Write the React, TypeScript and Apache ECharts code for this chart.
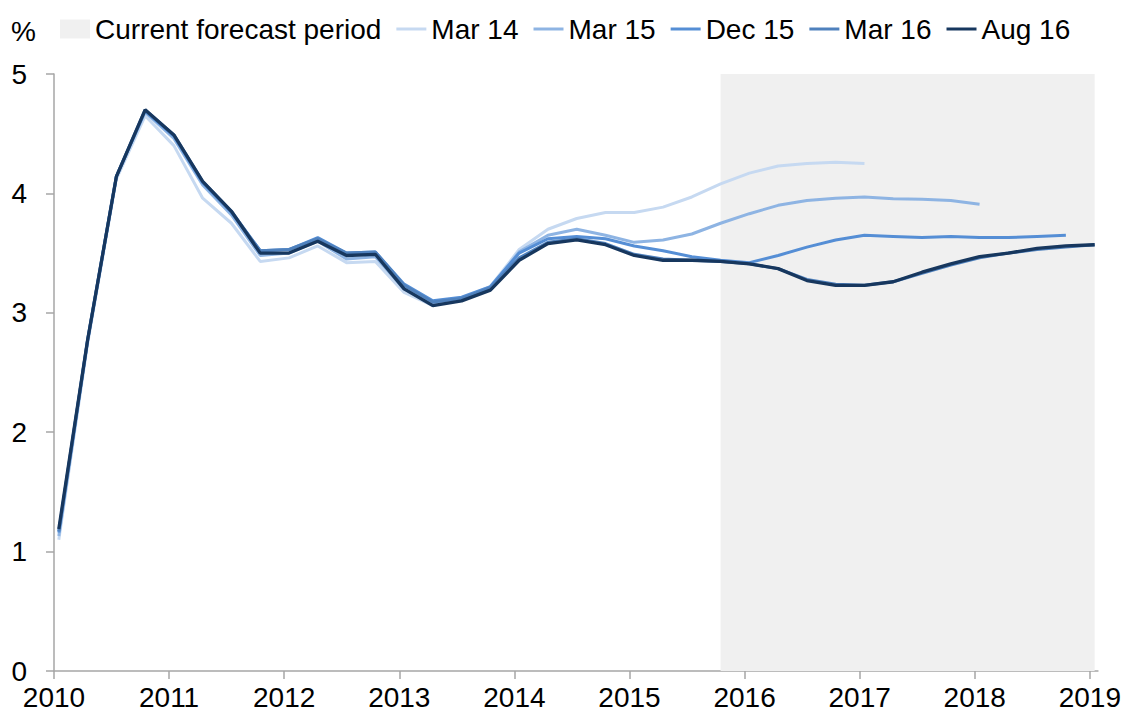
import React, { useEffect, useRef } from "react";
import * as echarts from "echarts";

const quarters = [
  "2010Q1", "2010Q2", "2010Q3", "2010Q4",
  "2011Q1", "2011Q2", "2011Q3", "2011Q4",
  "2012Q1", "2012Q2", "2012Q3", "2012Q4",
  "2013Q1", "2013Q2", "2013Q3", "2013Q4",
  "2014Q1", "2014Q2", "2014Q3", "2014Q4",
  "2015Q1", "2015Q2", "2015Q3", "2015Q4",
  "2016Q1", "2016Q2", "2016Q3", "2016Q4",
  "2017Q1", "2017Q2", "2017Q3", "2017Q4",
  "2018Q1", "2018Q2", "2018Q3", "2018Q4",
  "2019Q1",
];

const mar14 = [
  1.10, 2.74, 4.12, 4.65,
  4.40, 3.96, 3.75, 3.43,
  3.46, 3.56, 3.42, 3.43,
  3.17, 3.06, 3.12, 3.22,
  3.53, 3.70, 3.79, 3.84,
  3.84, 3.885, 3.97, 4.08,
  4.17, 4.23, 4.25, 4.26,
  4.25,
];

const mar15 = [
  1.13, 2.76, 4.14, 4.68,
  4.46, 4.07, 3.82, 3.48,
  3.50, 3.60, 3.45, 3.47,
  3.20, 3.07, 3.12, 3.21,
  3.51, 3.65, 3.70, 3.65,
  3.59, 3.61, 3.66, 3.75,
  3.83, 3.90, 3.94, 3.96,
  3.97, 3.955, 3.95, 3.94,
  3.91,
];

const dec15 = [
  1.16, 2.77, 4.14, 4.69,
  4.48, 4.09, 3.84, 3.52,
  3.53, 3.63, 3.50, 3.51,
  3.24, 3.10, 3.13, 3.22,
  3.50, 3.62, 3.64, 3.62,
  3.56, 3.52, 3.47, 3.44,
  3.42, 3.48, 3.55, 3.61,
  3.65, 3.64, 3.63, 3.64,
  3.63, 3.63, 3.64, 3.65,
];

const mar16 = [
  1.17, 2.77, 4.14, 4.70,
  4.49, 4.10, 3.85, 3.52,
  3.53, 3.62, 3.50, 3.51,
  3.23, 3.09, 3.12, 3.21,
  3.46, 3.59, 3.62, 3.58,
  3.49, 3.45, 3.44, 3.43,
  3.41, 3.37, 3.28, 3.24,
  3.23, 3.26, 3.33, 3.40,
  3.46, 3.50, 3.53, 3.55,
  3.57,
];

const aug16 = [
  1.19, 2.77, 4.14, 4.70,
  4.49, 4.10, 3.85, 3.50,
  3.50, 3.60, 3.48, 3.49,
  3.20, 3.06, 3.10, 3.19,
  3.44, 3.58, 3.61, 3.57,
  3.48, 3.44, 3.44, 3.43,
  3.41, 3.37, 3.27, 3.23,
  3.23, 3.26, 3.34, 3.41,
  3.47, 3.50, 3.54, 3.56,
  3.57,
];

const yearTicks = [2010, 2011, 2012, 2013, 2014, 2015, 2016, 2017, 2018, 2019];
const forecastStart = "2015Q4";
const forecastEnd = "2019Q1";

const seriesDefs = [
  { name: "Mar 14", values: mar14, color: "#c6d9f1", width: 3 },
  { name: "Mar 15", values: mar15, color: "#8eb4e3", width: 3 },
  { name: "Dec 15", values: dec15, color: "#558ed5", width: 3 },
  { name: "Mar 16", values: mar16, color: "#4f81bd", width: 3 },
  { name: "Aug 16", values: aug16, color: "#17375e", width: 3.3 },
];

// position of a quarter on the year axis: middle of the quarter's first month
function qx(label: string): number {
  const year = parseInt(label.slice(0, 4), 10);
  const q = parseInt(label.slice(5), 10);
  return year + ((q - 1) * 3 + 0.5) / 12;
}

const FONT = "'Liberation Sans', Arial, sans-serif";
const LINE_ICON = "path://M0,0 L30,0 L30,3 L0,3 Z";

export default function App() {
  const ref = useRef<HTMLDivElement>(null);

  useEffect(() => {
    if (!ref.current) return;
    const chart = echarts.init(ref.current, undefined, { renderer: "svg" });

    const lineSeries = seriesDefs.map((s) => ({
      name: s.name,
      type: "line",
      data: s.values.map((v, i) => [qx(quarters[i]), v]),
      symbol: "none",
      lineStyle: { color: s.color, width: s.width },
      itemStyle: { color: s.color },
      z: 3,
    }));

    chart.setOption({
      animation: false,
      textStyle: { fontFamily: FONT },
      grid: { left: 46, right: 24, top: 66, bottom: 40, containLabel: false },
      legend: {
        left: 47,
        top: 2,
        itemWidth: 30,
        itemHeight: 19,
        itemGap: 15,
        symbolKeepAspect: true,
        textStyle: { fontSize: 28, color: "#000", fontFamily: FONT },
        data: [
          { name: "Current forecast period", icon: "rect", itemStyle: { color: "#f0f0f0" } },
          ...seriesDefs.map((s) => ({
            name: s.name,
            icon: LINE_ICON,
            itemStyle: { color: s.color },
          })),
        ],
        selectedMode: false,
      },
      graphic: [
        {
          type: "text",
          left: 3,
          top: 9,
          style: { text: "%", fontSize: 28, fill: "#000", fontFamily: FONT },
        },
      ],
      xAxis: {
        type: "value",
        min: 2010,
        max: 2019.07,
        interval: 1,
        splitLine: { show: false },
        axisLine: { show: true, lineStyle: { color: "#a6a6a6", width: 1.5 } },
        axisTick: {
          show: true,
          length: 8,
          lineStyle: { color: "#a6a6a6", width: 1.5 },
          customValues: yearTicks,
        },
        axisLabel: {
          fontSize: 28,
          color: "#000",
          margin: 12,
          fontFamily: FONT,
          customValues: yearTicks,
          formatter: (v: number) => String(Math.round(v)),
        },
      },
      yAxis: {
        type: "value",
        min: 0,
        max: 5,
        interval: 1,
        splitLine: { show: false },
        axisLine: { show: true, lineStyle: { color: "#a6a6a6", width: 1.5 } },
        axisTick: { show: true, length: 8, lineStyle: { color: "#a6a6a6", width: 1.5 } },
        axisLabel: { fontSize: 28, color: "#000", margin: 27, fontFamily: FONT },
      },
      series: [
        {
          name: "Current forecast period",
          type: "line",
          data: [],
          symbol: "none",
          itemStyle: { color: "#f0f0f0" },
          lineStyle: { color: "#f0f0f0" },
          z: 1,
          markArea: {
            silent: true,
            itemStyle: { color: "#f0f0f0" },
            data: [[{ xAxis: qx(forecastStart) }, { xAxis: qx(forecastEnd) }]],
          },
        },
        ...lineSeries,
      ],
    });

    return () => chart.dispose();
  }, []);

  return <div ref={ref} style={{ width: 1116, height: 703 }} />;
}
